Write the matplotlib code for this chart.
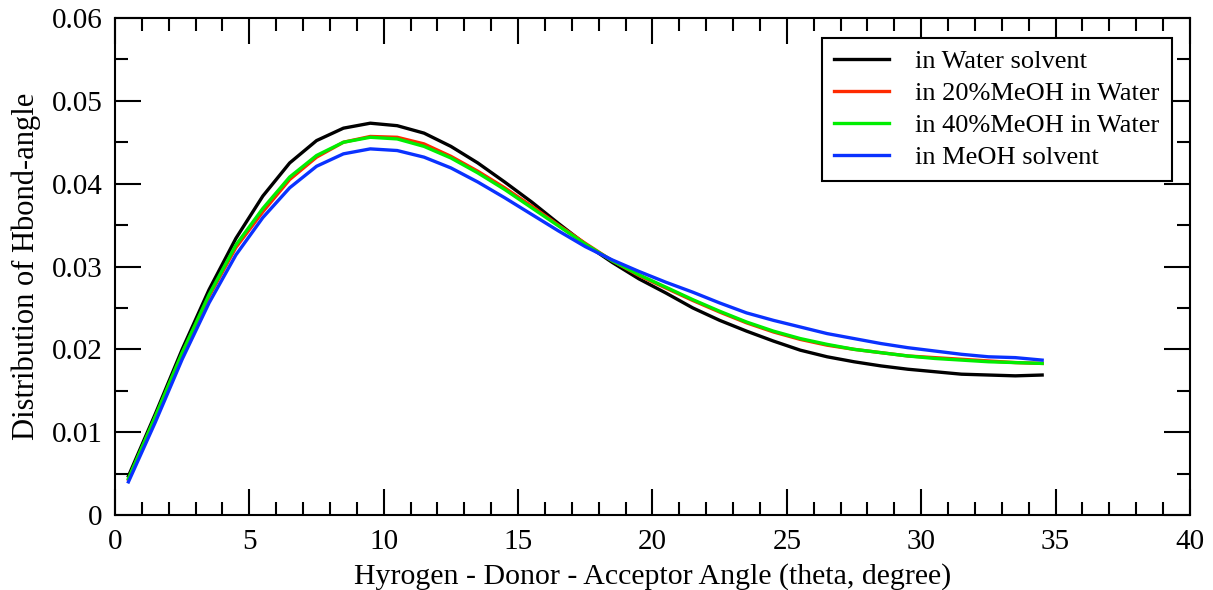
import numpy as np
import matplotlib.pyplot as plt
from matplotlib.ticker import MultipleLocator

plt.rcParams['font.family'] = ['Liberation Serif', 'DejaVu Serif']

# ---------------- datos ----------------
angle = np.arange(0.5, 35.0, 1.0)

water = [0.0047, 0.0122, 0.0200, 0.0272, 0.0334, 0.0385, 0.0425, 0.0452, 0.0467, 0.0473,
         0.0470, 0.0461, 0.0445, 0.0425, 0.0402, 0.0378, 0.0352, 0.0327, 0.0305, 0.0285,
         0.0268, 0.0250, 0.0235, 0.0222, 0.0210, 0.0199, 0.0191, 0.0185, 0.0180, 0.0176,
         0.0173, 0.0170, 0.0169, 0.0168, 0.0169]

meoh20 = [0.0043, 0.0118, 0.0195, 0.0264, 0.0323, 0.0366, 0.0405, 0.0432, 0.0450, 0.0457,
          0.0456, 0.0448, 0.0433, 0.0415, 0.0395, 0.0373, 0.0350, 0.0328, 0.0307, 0.0289,
          0.0274, 0.0259, 0.0245, 0.0232, 0.0221, 0.0212, 0.0205, 0.0200, 0.0196, 0.0192,
          0.0190, 0.0188, 0.0186, 0.0184, 0.0183]

meoh40 = [0.0044, 0.0119, 0.0196, 0.0266, 0.0326, 0.0370, 0.0408, 0.0434, 0.0450, 0.0456,
          0.0454, 0.0445, 0.0431, 0.0413, 0.0393, 0.0371, 0.0349, 0.0327, 0.0307, 0.0290,
          0.0275, 0.0260, 0.0246, 0.0233, 0.0222, 0.0213, 0.0206, 0.0200, 0.0196, 0.0192,
          0.0189, 0.0187, 0.0185, 0.0184, 0.0183]

meoh = [0.0040, 0.0112, 0.0188, 0.0256, 0.0314, 0.0359, 0.0395, 0.0421, 0.0436, 0.0442,
        0.0440, 0.0432, 0.0419, 0.0402, 0.0383, 0.0363, 0.0343, 0.0324, 0.0308, 0.0294,
        0.0281, 0.0269, 0.0256, 0.0244, 0.0235, 0.0227, 0.0219, 0.0213, 0.0207, 0.0202,
        0.0198, 0.0194, 0.0191, 0.0190, 0.0187]

labels = ["in Water solvent", "in 20%MeOH in Water", "in 40%MeOH in Water", "in MeOH solvent"]
colors = ["black", "#ff2a00", "#00ee00", "#0a32ff"]

# ---------------- gráfico ----------------
fig = plt.figure(figsize=(12.13, 5.90), dpi=100)
ax = fig.add_axes([0.0948, 0.1271, 0.8862, 0.8424])

for y, lab, c in zip([water, meoh20, meoh40, meoh], labels, colors):
    ax.plot(angle, y, color=c, lw=2.4, label=lab)

ax.set_xlim(0, 40)
ax.set_ylim(0, 0.06)
ax.xaxis.set_major_locator(MultipleLocator(5))
ax.xaxis.set_minor_locator(MultipleLocator(1))
ax.yaxis.set_major_locator(MultipleLocator(0.01))
ax.yaxis.set_minor_locator(MultipleLocator(0.005))
ax.yaxis.set_major_formatter(plt.FuncFormatter(lambda v, p: "0" if v == 0 else f"{v:.2f}"))

ax.tick_params(which='both', direction='in', top=True, right=True, width=1.5, labelsize=21)
ax.tick_params(axis='x', pad=10)
ax.tick_params(axis='y', pad=9)
ax.tick_params(which='major', length=19)
ax.tick_params(which='minor', length=9.5)
for s in ax.spines.values():
    s.set_linewidth(1.5)

ax.set_xlabel("Hyrogen - Donor - Acceptor Angle (theta, degree)", fontsize=21.5, labelpad=6)
ax.set_ylabel("Distribution of Hbond-angle", fontsize=22, labelpad=8)

leg = ax.legend(loc='upper right', bbox_to_anchor=(0.983, 0.96), borderaxespad=0,
                fontsize=19, handlelength=2.1, handletextpad=1.0, labelspacing=0.32,
                fancybox=False, framealpha=1, edgecolor='black', borderpad=0.45)
leg.get_frame().set_linewidth(1.5)

fig.savefig("out.png", dpi=100)
